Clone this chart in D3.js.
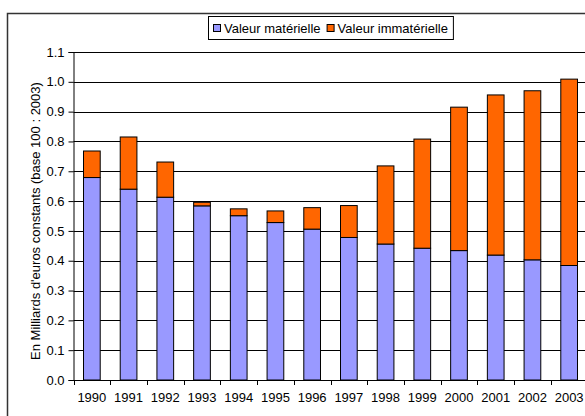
<!DOCTYPE html>
<html><head><meta charset="utf-8">
<script src="https://cdn.jsdelivr.net/npm/d3@7"></script>
<style>
body{margin:0;background:#fff;}
svg{display:block;font-family:"Liberation Sans",Arial,sans-serif;}
</style></head>
<body>
<svg id="chart" width="585" height="416"></svg>
<script>
const years = ["1990","1991","1992","1993","1994","1995","1996","1997","1998","1999","2000","2001","2002","2003"];
const materielle = [0.679,0.640,0.613,0.584,0.551,0.528,0.506,0.478,0.456,0.442,0.434,0.419,0.403,0.384];
const totals = [0.768,0.815,0.731,0.596,0.574,0.567,0.578,0.585,0.718,0.808,0.915,0.956,0.970,1.009];
const immaterielle = totals.map((t,i)=> +(t - materielle[i]).toFixed(3));
const seriesNames = ["Valeur matérielle","Valeur immatérielle"];
const seriesColors = ["#9999FF","#FF6600"];
const yTicks = [0,0.1,0.2,0.3,0.4,0.5,0.6,0.7,0.8,0.9,1.0,1.1];
const yTitle = "En Milliards d'euros constants (base 100 : 2003)";

const svg = d3.select("#chart");
const pLeft = 73.5, pRight = 587.5, pTop = 52, pBottom = 380;
const FS = 13;

// outer frame
svg.append("rect").attr("x",7.5).attr("y",13.5).attr("width",600).attr("height",420)
  .attr("fill","none").attr("stroke","#333").attr("stroke-width",1.5);

const x = d3.scaleBand().domain(years).range([pLeft,pRight]).paddingInner(0.545).paddingOuter(0.2725);
const xb = d3.scaleBand().domain(years).range([pLeft,pRight]);
const y = d3.scaleLinear().domain([0,1.1]).range([pBottom,pTop]);

// gridlines
svg.append("g").selectAll("line").data(yTicks.slice(1)).join("line")
  .attr("x1",pLeft).attr("x2",pRight)
  .attr("y1",d=>Math.round(y(d))+0.5).attr("y2",d=>Math.round(y(d))+0.5)
  .attr("stroke","#000").attr("stroke-width",1);

// stacked bars
const rows = years.map((yr,i)=>({year:yr, m:materielle[i], im:immaterielle[i]}));
const stack = d3.stack().keys(["m","im"])(rows);
svg.append("g").selectAll("g").data(stack).join("g")
  .attr("fill",(d,i)=>seriesColors[i])
  .selectAll("rect").data(d=>d).join("rect")
  .attr("x",d=>x(d.data.year)).attr("width",x.bandwidth())
  .attr("y",d=>y(d[1])).attr("height",d=>y(d[0])-y(d[1]))
  .attr("stroke","#000").attr("stroke-width",1);

// y axis
const yAxis = d3.axisLeft(y).tickValues(yTicks).tickFormat(d3.format(".1f")).tickSize(5).tickPadding(4);
const gy = svg.append("g").attr("transform",`translate(${pLeft},0)`).call(yAxis);
gy.select(".domain").attr("stroke","#000");
gy.selectAll(".tick line").attr("stroke","#000");
gy.selectAll("text").attr("font-size",FS).attr("fill","#000").attr("font-family","Liberation Sans, Arial, sans-serif");

// x axis
const gx = svg.append("g").attr("transform",`translate(0,${pBottom})`);
gx.append("line").attr("x1",pLeft).attr("x2",pRight).attr("y1",0.5).attr("y2",0.5).attr("stroke","#000");
gx.selectAll("line.tk").data(years.concat(["end"])).join("line").attr("class","tk")
  .attr("x1",(d,i)=>Math.round(pLeft+i*xb.bandwidth())+0.5).attr("x2",(d,i)=>Math.round(pLeft+i*xb.bandwidth())+0.5)
  .attr("y1",0).attr("y2",5).attr("stroke","#000");
gx.selectAll("text").data(years).join("text")
  .attr("x",d=>xb(d)+xb.bandwidth()/2).attr("y",22)
  .attr("text-anchor","middle").attr("font-size",FS).attr("fill","#000").text(d=>d);

// y title
svg.append("text").attr("transform",`translate(40,221) rotate(-90)`)
  .attr("text-anchor","middle").attr("font-size",FS).attr("fill","#000").text(yTitle);

// legend, centred on plot
const lg = svg.append("g");
const box = lg.append("rect").attr("y",16.5).attr("height",23)
  .attr("fill","#fff").attr("stroke","#000").attr("stroke-width",1);
let cx = 0;
const parts = [];
seriesNames.forEach((name,i)=>{
  const sq = lg.append("rect").attr("y",24.5).attr("width",7).attr("height",7)
    .attr("fill",seriesColors[i]).attr("stroke","#000");
  const t = lg.append("text").attr("y",33).attr("font-size",FS).attr("fill","#000").text(name);
  parts.push({sq,t,off:cx});
  cx += 7 + 4 + t.node().getComputedTextLength() + 6;
});
const totalW = cx - 6 + 10;
const bx = Math.round((pLeft+pRight)/2 - totalW/2);
box.attr("x",bx+0.5).attr("width",totalW);
parts.forEach(p=>{
  p.sq.attr("x",bx+5+p.off+0.5);
  p.t.attr("x",bx+5+p.off+11);
});
</script>
</body></html>
